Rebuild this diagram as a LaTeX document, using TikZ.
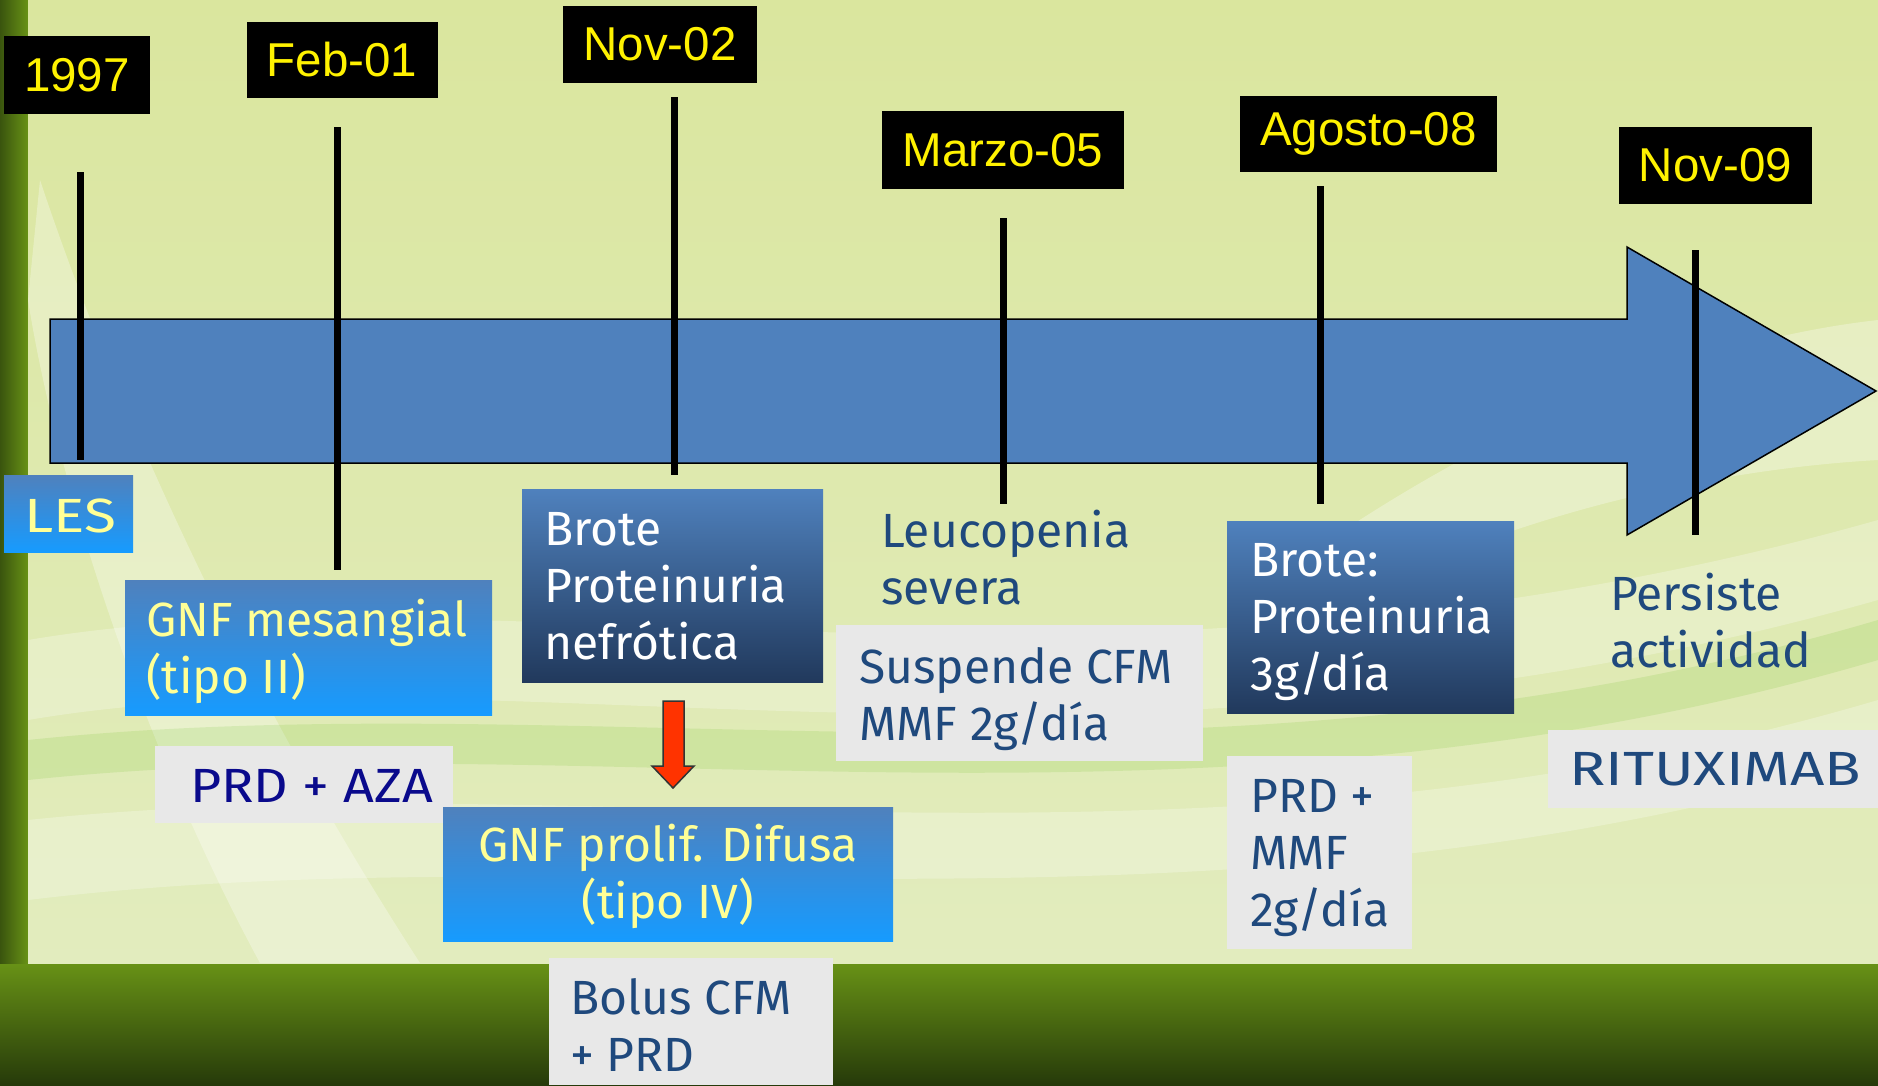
\documentclass[tikz,border=0pt]{standalone}
\usepackage{fontspec}
\setmainfont{Fira Sans}
\newfontfamily\datefont{Liberation Sans}
\definecolor{bgtop}{RGB}{218,230,158}
\definecolor{bgbot}{RGB}{226,236,190}
\definecolor{grassA}{RGB}{104,146,22}
\definecolor{grassB}{RGB}{38,58,10}
\definecolor{arrowblue}{RGB}{79,129,189}
\definecolor{lbtop}{RGB}{79,129,189}
\definecolor{lbbot}{RGB}{22,155,255}
\definecolor{dbbot}{RGB}{33,57,92}
\definecolor{ytext}{RGB}{255,255,150}
\definecolor{dtext}{RGB}{31,73,125}
\definecolor{navytext}{RGB}{10,10,140}
\definecolor{graybg}{RGB}{232,232,232}
\definecolor{redarrow}{RGB}{255,51,0}
\begin{document}
\begin{tikzpicture}[x=1pt,y=-1pt,
  datebox/.style={fill=black,text=yellow,inner sep=0pt,font=\datefont\fontsize{47.5}{57}\selectfont},
  tickline/.style={line width=7pt,black},
  lightbox/.style={top color=lbtop,bottom color=lbbot,draw=none,inner sep=0pt,anchor=north west},
  darkbox/.style={top color=lbtop,bottom color=dbbot,draw=none,inner sep=0pt,anchor=north west},
  graybox/.style={fill=graybg,draw=none,inner sep=0pt,anchor=north west},
  txt/.style={inner sep=0pt,align=left,font=\fontsize{48}{57}\selectfont},
]
\useasboundingbox (0,0) rectangle (1878,1085);
% background
\fill[grassA] (0,0) rectangle (1878,1085);
\shade[top color=grassA,bottom color=grassB] (0,963) rectangle (1878,1085);
\shade[left color=grassB!70!grassA,right color=grassA] (0,0) rectangle (28,963);
\shade[top color=bgtop,bottom color=bgbot] (28,0) rectangle (1878,963);
% swooshes
\begin{scope}
\clip (28,0) rectangle (1878,963);
\fill[white,opacity=0.3] (40,180) .. controls (120,420) and (250,700) .. (420,963) -- (260,963) .. controls (150,760) and (60,500) .. (28,300) -- cycle;
\fill[white,opacity=0.25] (28,640) .. controls (500,560) and (1100,740) .. (1878,520) -- (1878,600) .. controls (1100,820) and (500,640) .. (28,720) -- cycle;
\fill[white,opacity=0.25] (28,820) .. controls (600,760) and (1200,900) .. (1878,700) -- (1878,760) .. controls (1200,960) and (600,830) .. (28,900) -- cycle;
\fill[white,opacity=0.3] (1300,560) .. controls (1500,420) and (1700,340) .. (1878,320) -- (1878,460) .. controls (1700,470) and (1500,520) .. (1350,600) -- cycle;
\fill[green!40!olive,opacity=0.12] (28,740) .. controls (600,680) and (1200,820) .. (1878,620) -- (1878,660) .. controls (1200,860) and (600,720) .. (28,780) -- cycle;
\end{scope}
% main arrow
\draw[line width=1.5pt,fill=arrowblue,line join=miter]
  (50,319) -- (1627,319) -- (1627,247) -- (1876,391) -- (1627,535) -- (1627,463) -- (50,463) -- cycle;
% date boxes
\node[datebox,minimum width=146,minimum height=78] (d1) at (77,75) {1997};
\node[datebox,minimum width=191,minimum height=76] (d2) at (342,59.5) {Feb-01};
\node[datebox,minimum width=194,minimum height=77] (d3) at (660,44.5) {Nov-02};
\node[datebox,minimum width=242,minimum height=78] (d4) at (1003,150) {Marzo-05};
\node[datebox,minimum width=257,minimum height=76] (d5) at (1368.5,133.5) {Agosto-08};
\node[datebox,minimum width=193,minimum height=77] (d6) at (1715.5,165.5) {Nov-09};
% tick lines
\coordinate (t1a) at (80,172);   \coordinate (t1b) at (80,460);
\coordinate (t2a) at (337,127);  \coordinate (t2b) at (337,570);
\coordinate (t3a) at (674,97);   \coordinate (t3b) at (674,475);
\coordinate (t4a) at (1003,218); \coordinate (t4b) at (1003,504);
\coordinate (t5a) at (1320,186); \coordinate (t5b) at (1320,504);
\coordinate (t6a) at (1695,250); \coordinate (t6b) at (1695,535);
\foreach \i in {1,...,6} {\draw[tickline] (t\i a) -- (t\i b);}
% LES
\node[lightbox,minimum width=129,minimum height=77] (les) at (4,475) {};
\node[txt,text=ytext,anchor=base west] (lestxt) at (24,532) {\scalebox{1.22}[1]{LES}};
% GNF mesangial
\node[lightbox,minimum width=367,minimum height=135] (gnf1) at (125,580) {};
\node[txt,text=ytext,anchor=north west] (gnf1txt) at (146,599) {GNF mesangial\\(tipo II)};
% PRD + AZA
\node[graybox,minimum width=298,minimum height=77] (aza) at (155,746) {};
\node[txt,text=navytext,anchor=base west] (azatxt) at (190,802) {\scalebox{1.12}[1]{PRD + AZA}};
% Brote Nov-02
\node[darkbox,minimum width=301,minimum height=193] (brote1) at (522,489) {};
\node[txt,text=white,anchor=north west] (brote1txt) at (544,512) {Brote\\Proteinuria\\nefrótica};
% red arrow
\fill[redarrow,draw=black!80,line width=1.5pt,line join=miter]
  (663,701) -- (684,701) -- (684,766) -- (694,766) -- (673,788) -- (652,766) -- (663,766) -- cycle;
% GNF prolif
\node[lightbox,minimum width=450,minimum height=134] (gnf2) at (443,807) {};
\node[txt,text=ytext,align=center,anchor=north] (gnf2txt) at (668,824) {GNF prolif. Difusa\\(tipo IV)};
% Bolus
\node[graybox,minimum width=284,minimum height=127] (bolus) at (549,958) {};
\node[txt,text=dtext,anchor=north west] (bolustxt) at (570,978) {Bolus CFM\\+ PRD};
% Leucopenia
\node[txt,text=dtext,anchor=north west] (leuco) at (881,510) {Leucopenia\\severa};
% Suspende
\node[graybox,minimum width=367,minimum height=136] (susp) at (836,625) {};
\node[txt,text=dtext,anchor=north west] (susptxt) at (859,647) {Suspende CFM\\MMF 2g/día};
% Brote Agosto
\node[darkbox,minimum width=287,minimum height=192] (brote2) at (1227,521) {};
\node[txt,text=white,anchor=north west] (brote2txt) at (1250,543) {Brote:\\Proteinuria\\3g/día};
% PRD + MMF
\node[graybox,minimum width=185,minimum height=193] (mmf) at (1227,756) {};
\node[txt,text=dtext,anchor=north west] (mmftxt) at (1250,779) {PRD +\\MMF\\2g/día};
% Persiste
\node[txt,text=dtext,anchor=north west] (persiste) at (1610,573) {Persiste\\actividad};
% Rituximab
\node[graybox,minimum width=330,minimum height=78] (ritux) at (1548,730) {};
\node[txt,text=dtext,anchor=base west] (rituxtxt) at (1569,785) {\scalebox{1.25}[1]{RITUXIMAB}};
\end{tikzpicture}
\end{document}
